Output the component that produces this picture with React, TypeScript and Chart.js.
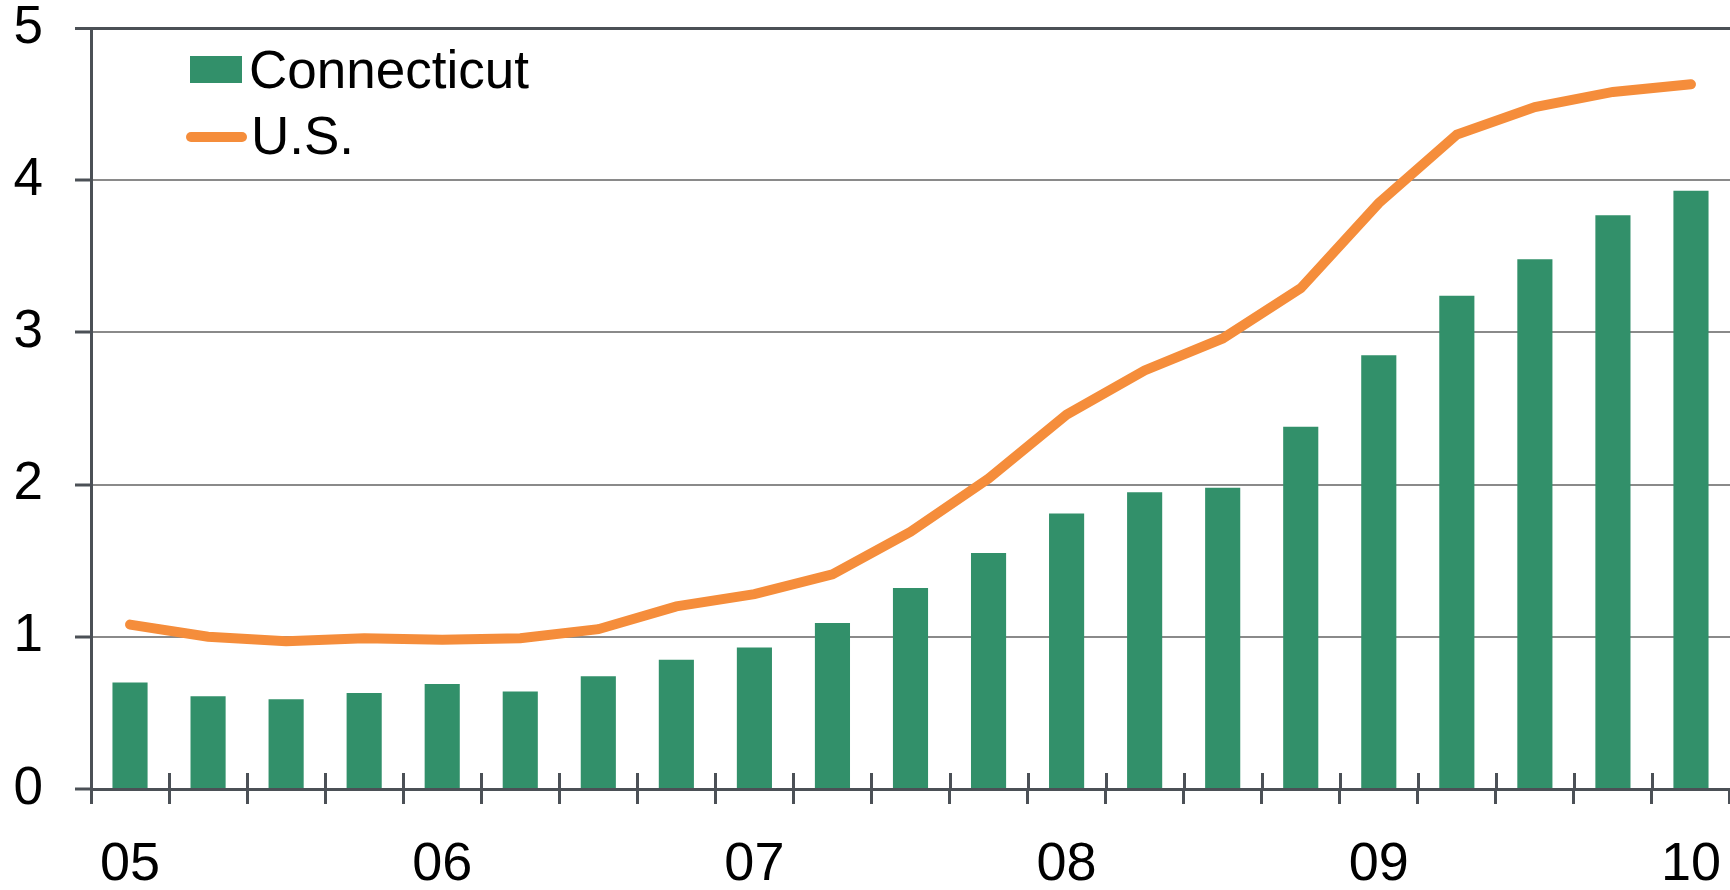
import React, { useEffect, useRef } from "react";
import { Chart, registerables } from "chart.js";

Chart.register(...registerables);

// Quarterly categories, 2005Q1 .. 2010Q1
const quarters = [
  "05Q1", "05Q2", "05Q3", "05Q4",
  "06Q1", "06Q2", "06Q3", "06Q4",
  "07Q1", "07Q2", "07Q3", "07Q4",
  "08Q1", "08Q2", "08Q3", "08Q4",
  "09Q1", "09Q2", "09Q3", "09Q4",
  "10Q1",
];
const yearTickLabels = ["05", "06", "07", "08", "09", "10"];

const connecticut = [
  0.70, 0.61, 0.59, 0.63, 0.69, 0.64, 0.74, 0.85, 0.93, 1.09, 1.32,
  1.55, 1.81, 1.95, 1.98, 2.38, 2.85, 3.24, 3.48, 3.77, 3.93,
];
const us = [
  1.08, 1.00, 0.97, 0.99, 0.98, 0.99, 1.05, 1.20, 1.28, 1.41, 1.69,
  2.04, 2.46, 2.75, 2.96, 3.29, 3.85, 4.30, 4.48, 4.58, 4.63,
];
const yTicks = [0, 1, 2, 3, 4, 5];

const GREEN = "#32906a";
const ORANGE = "#f58d3b";
const AXIS = "#4b5056";
const GRID = "#8a8a8a";
const FONT = '"Liberation Sans", Arial, Helvetica, sans-serif';

const crossTicks = {
  id: "crossTicks",
  afterDatasetsDraw(chart: any) {
    const x = chart.scales.x;
    const ctx = chart.ctx;
    const bottom = chart.chartArea.bottom;
    ctx.save();
    ctx.strokeStyle = AXIS;
    ctx.lineWidth = 3;
    for (let i = 1; i < quarters.length; i++) {
      const px = Math.round((x.getPixelForValue(i - 1) + x.getPixelForValue(i)) / 2) + 0.5;
      ctx.beginPath();
      ctx.moveTo(px, bottom - 16);
      ctx.lineTo(px, bottom);
      ctx.stroke();
    }
    ctx.restore();
  },
};

export default function App() {
  const canvasRef = useRef<HTMLCanvasElement | null>(null);

  useEffect(() => {
    const canvas = canvasRef.current;
    if (!canvas) return;
    const chart = new Chart(canvas, {
      type: "bar",
      data: {
        labels: quarters,
        datasets: [
          {
            type: "line",
            label: "U.S.",
            data: us,
            borderColor: ORANGE,
            backgroundColor: ORANGE,
            borderWidth: 10,
            borderCapStyle: "round",
            borderJoinStyle: "miter",
            pointRadius: 0,
            tension: 0,
            order: 0,
          } as any,
          {
            type: "bar",
            label: "Connecticut",
            data: connecticut,
            backgroundColor: GREEN,
            borderWidth: 0,
            categoryPercentage: 1,
            barPercentage: 0.45,
            order: 1,
          },
        ],
      },
      options: {
        responsive: false,
        animation: false,
        layout: { padding: { top: 28, left: 0, right: 0, bottom: 0 } },
        plugins: {
          legend: { display: false },
          tooltip: { enabled: false },
        },
        scales: {
          x: {
            offset: true,
            grid: {
              offset: true,
              drawOnChartArea: false,
              drawTicks: true,
              tickLength: 15,
              color: AXIS,
              lineWidth: 3,
            },
            border: { display: true, color: AXIS, width: 3 },
            ticks: {
              autoSkip: false,
              maxRotation: 0,
              minRotation: 0,
              padding: 29,
              color: "#000",
              font: { family: FONT, size: 54 },
              callback: (_v: any, index: number) =>
                index % 4 === 0 ? yearTickLabels[index / 4] : "",
            },
            afterFit: (scale: any) => {
              scale.height = 101;
              scale.paddingLeft = 0;
              scale.paddingRight = 0;
            },
          },
          y: {
            min: yTicks[0],
            max: yTicks[yTicks.length - 1],
            afterBuildTicks: (scale: any) => {
              scale.ticks = yTicks.map((v) => ({ value: v }));
            },
            grid: {
              drawTicks: true,
              tickLength: 16,
              tickColor: AXIS,
              tickWidth: 3,
              color: (ctx: any) => (ctx.tick && ctx.tick.value === 5 ? AXIS : GRID),
              lineWidth: (ctx: any) => (ctx.tick && ctx.tick.value === 5 ? 3 : 2),
            },
            border: { display: true, color: AXIS, width: 3 },
            ticks: {
              padding: 32,
              color: "#000",
              font: { family: FONT, size: 53 },
              callback: (v: any) => String(v),
            },
            afterFit: (scale: any) => {
              scale.width = 91;
              scale.paddingTop = 0;
              scale.paddingBottom = 0;
            },
          },
        },
      },
      plugins: [crossTicks],
    });
    return () => chart.destroy();
  }, []);

  const textStyle: React.CSSProperties = {
    position: "absolute",
    fontFamily: FONT,
    fontSize: 53,
    lineHeight: "53px",
    color: "#000",
    whiteSpace: "nowrap",
  };

  return (
    <div style={{ position: "absolute", left: 0, top: 0, width: 1730, height: 890, background: "#fff", overflow: "hidden" }}>
      <canvas ref={canvasRef} width={1730} height={890} style={{ display: "block" }} />
      <div style={{ position: "absolute", left: 190, top: 56, width: 52, height: 27, background: GREEN }} />
      <div style={{ ...textStyle, left: 249, top: 43 }}>Connecticut</div>
      <div style={{ position: "absolute", left: 186, top: 132, width: 61, height: 10, borderRadius: 5, background: ORANGE }} />
      <div style={{ ...textStyle, left: 251, top: 109 }}>U.S.</div>
    </div>
  );
}
